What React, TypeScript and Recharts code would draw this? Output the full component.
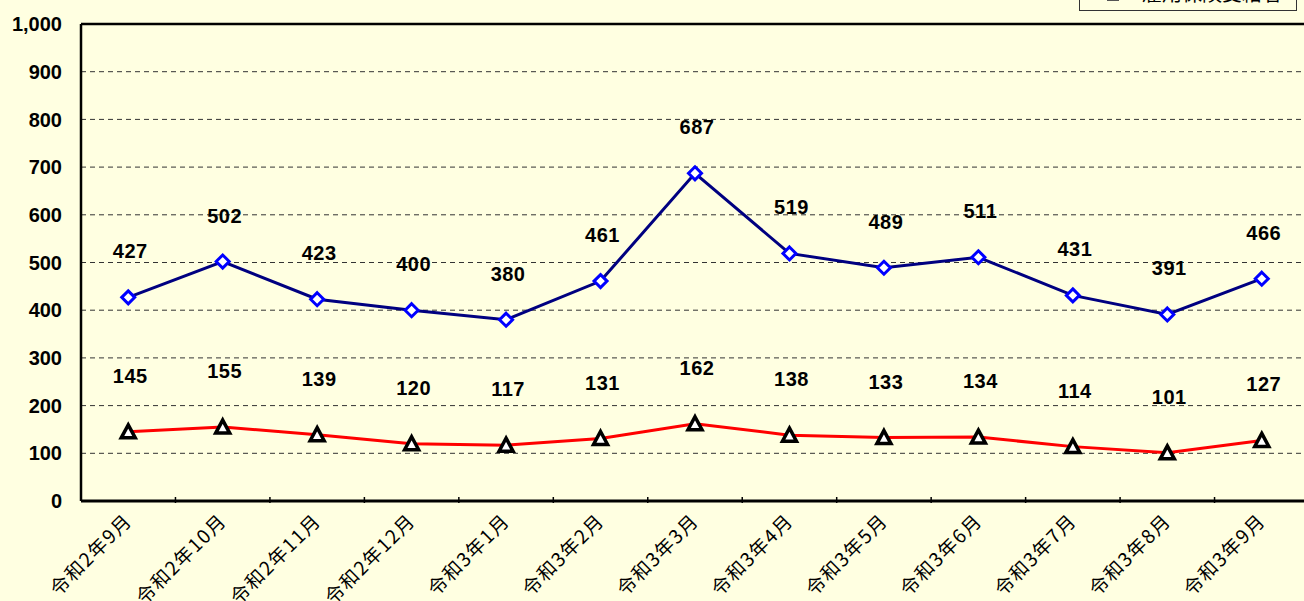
import { LineChart, Line, XAxis, YAxis, CartesianGrid, ReferenceLine } from 'recharts';

const months = ['令和2年9月', '令和2年10月', '令和2年11月', '令和2年12月', '令和3年1月', '令和3年2月', '令和3年3月',
  '令和3年4月', '令和3年5月', '令和3年6月', '令和3年7月', '令和3年8月', '令和3年9月'];
const blueValues = [427, 502, 423, 400, 380, 461, 687, 519, 489, 511, 431, 391, 466];
const redValues = [145, 155, 139, 120, 117, 131, 162, 138, 133, 134, 114, 101, 127];
const yTicks = [0, 100, 200, 300, 400, 500, 600, 700, 800, 900, 1000];
const legendLabel = '雇用保険受給者';

const data = months.map((m, i) => ({ name: m, blue: blueValues[i], red: redValues[i] }));

const W = 1310;
const H = 601;
const LEFT = 81;
const BAND = (W - 1 - LEFT) / months.length;

const Diamond = (p: any) => {
  const { cx, cy } = p;
  if (cx == null || cy == null) return null;
  const r = 6.5;
  return <path d={`M${cx},${cy - r}L${cx + r},${cy}L${cx},${cy + r}L${cx - r},${cy}Z`} fill="#ffffff" stroke="#0000ff" strokeWidth={3} />;
};

const Triangle = (p: any) => {
  const { cx, cy } = p;
  if (cx == null || cy == null) return null;
  return <path d={`M${cx},${cy - 7}L${cx + 7},${cy + 6}L${cx - 7},${cy + 6}Z`} fill="#ffffff" stroke="#000000" strokeWidth={3.5} strokeLinejoin="miter" />;
};

const makeLabel = (dy: number) => (p: any) => {
  const { x, y, value } = p;
  return (
    <text x={x + 2} y={y - dy} textAnchor="middle" fontFamily="'Liberation Sans', Arial, sans-serif" fontWeight="bold"
      fontSize={20} letterSpacing={0.5} fill="#000">
      {value}
    </text>
  );
};

const MonthTick = (p: any) => {
  const { x, y, payload } = p;
  const axisY = y;
  return (
    <g>
      <line x1={x + BAND / 2} y1={axisY - 6} x2={x + BAND / 2} y2={axisY} stroke="#000" strokeWidth={1.5} />
      <text x={x + 5} y={axisY + 19} textAnchor="end" transform={`rotate(-45 ${x + 5} ${axisY + 19})`}
        fontFamily="'Noto Sans CJK JP', sans-serif" fontSize={19} letterSpacing={1.5} fill="#000">
        {payload.value}
      </text>
    </g>
  );
};

export default function App() {
  return (
    <div style={{ position: 'absolute', left: 0, top: 0, width: 1304, height: H, overflow: 'hidden', background: '#ffffe1' }}>
      <LineChart width={W} height={H} data={data} margin={{ top: 24, right: 1, bottom: 0, left: 0 }}>
        <CartesianGrid vertical={false} stroke="#333" strokeDasharray="5 4" strokeWidth={1} />
        <XAxis dataKey="name" height={100} axisLine={{ stroke: '#000', strokeWidth: 3 }} tickLine={false} tickSize={0}
          tick={<MonthTick />} interval={0} padding={{ left: BAND / 2, right: BAND / 2 }} />
        <YAxis domain={[0, 1000]} ticks={yTicks} width={LEFT} axisLine={{ stroke: '#000', strokeWidth: 2.5 }} tickLine={false}
          tickSize={0} tickMargin={19} tickFormatter={(v: number) => v.toLocaleString('en-US')}
          tick={{ fontFamily: "'Liberation Sans', Arial, sans-serif", fontWeight: 'bold', fontSize: 20, fill: '#000' }} />
        <ReferenceLine y={1000} stroke="#000" strokeWidth={2.5} />
        <Line dataKey="blue" stroke="#000080" strokeWidth={3} dot={<Diamond />} isAnimationActive={false} label={makeLabel(39)} />
        <Line dataKey="red" stroke="#ff0000" strokeWidth={3} dot={<Triangle />} isAnimationActive={false} label={makeLabel(49)} />
      </LineChart>
      <div style={{ position: 'absolute', left: 1079, top: -16, width: 218, height: 27, border: '1px solid #333',
        background: '#ffffe1', boxSizing: 'border-box' }}>
        <div style={{ position: 'absolute', left: 27, top: 14, width: 12, height: 2, background: '#555' }} />
        <div style={{ position: 'absolute', left: 62, top: -4, fontFamily: "'Noto Sans CJK JP', sans-serif", fontSize: 20,
          lineHeight: '24px', color: '#000', whiteSpace: 'nowrap' }}>{legendLabel}</div>
      </div>
    </div>
  );
}
